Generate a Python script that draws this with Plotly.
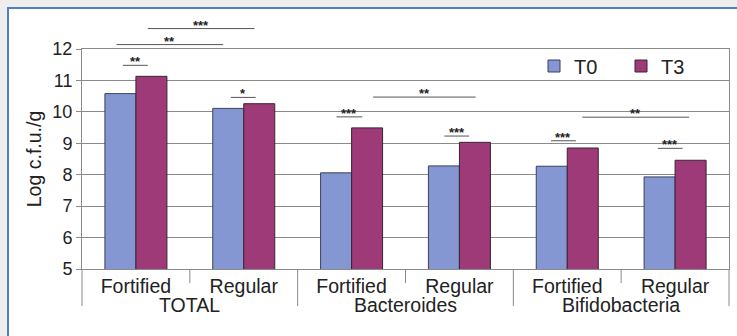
import plotly.graph_objects as go

# ---- data ----
subgroups = ["Fortified", "Regular", "Fortified", "Regular", "Fortified", "Regular"]
groups = ["TOTAL", "Bacteroides", "Bifidobacteria"]
t0_values = [10.58, 10.11, 8.06, 8.28, 8.27, 7.93]
t3_values = [11.13, 10.26, 9.49, 9.03, 8.85, 8.46]
y_ticks = [5, 6, 7, 8, 9, 10, 11, 12]

# significance brackets (start/end position along category axis, level, label)
sig_x0 = [-0.12, -0.18, 0.11, 0.88, 1.86, 2.20, 2.86, 3.85, 4.14, 4.84]
sig_x1 = [0.11, 0.81, 1.10, 1.11, 2.10, 3.15, 3.09, 4.08, 5.13, 5.07]
sig_y = [11.48, 12.14, 12.65, 10.46, 9.84, 10.47, 9.23, 9.08, 9.83, 8.84]
sig_lbl = ["**", "**", "***", "*", "***", "**", "***", "***", "**", "***"]

# ---- layout constants ----
W, H = 737, 336
ML, MR, MT, MB = 82, 8, 49, 67
PW, PH = W - ML - MR, H - MT - MB
Y_RANGE = [5, 12]
positions = list(range(len(subgroups)))
X_RANGE = [-0.5, len(subgroups) - 0.5]

FONT = "Liberation Sans, Arial, sans-serif"
GRID = "#8a8a8a"
BLUE = "#8597d3"
MAGENTA = "#9d3a77"


def xp(x):
    return (x - X_RANGE[0]) / (X_RANGE[1] - X_RANGE[0])


def yp(v):
    return (v - Y_RANGE[0]) / (Y_RANGE[1] - Y_RANGE[0])


def py_px(pix):
    # pixel row (from top of page) -> paper y
    return (H - MB - pix) / PH


def px_px(pix):
    return (pix - ML) / PW


fig = go.Figure()
fig.add_trace(go.Bar(x=positions, y=t0_values, name="T0",
                     marker=dict(color=BLUE, line=dict(color="#3c3f5a", width=1))))
fig.add_trace(go.Bar(x=positions, y=t3_values, name="T3",
                     marker=dict(color=MAGENTA, line=dict(color="#3a2433", width=1))))

shapes = []
# white panel with blue border
shapes.append(dict(type="rect", xref="paper", yref="paper",
                   x0=px_px(8), x1=px_px(W + 20), y0=py_px(H + 20), y1=py_px(8),
                   fillcolor="white", line=dict(color="#4f7fc4", width=2), layer="below"))

# category separators below the axis
for i in range(len(subgroups) + 1):
    xb = i - 0.5
    long_line = (i % 2 == 0)
    shapes.append(dict(type="line", xref="paper", yref="paper",
                       x0=xp(xb), x1=xp(xb), y0=0, y1=py_px(306 if long_line else 283),
                       line=dict(color=GRID, width=1)))

annotations = []
for x0, x1, yv, lbl in zip(sig_x0, sig_x1, sig_y, sig_lbl):
    shapes.append(dict(type="line", xref="paper", yref="paper",
                       x0=xp(x0), x1=xp(x1), y0=yp(yv), y1=yp(yv),
                       line=dict(color="#555555", width=1)))
    annotations.append(dict(xref="paper", yref="paper", x=xp((x0 + x1) / 2), y=yp(yv),
                            xanchor="center", yanchor="bottom", yshift=-6,
                            text="<b>" + lbl + "</b>", showarrow=False,
                            font=dict(family=FONT, size=13, color="#222222")))

for gi, g in enumerate(groups):
    annotations.append(dict(xref="paper", yref="paper", x=xp(2 * gi + 0.5), y=py_px(305),
                            text=g, showarrow=False, xanchor="center", yanchor="middle",
                            font=dict(family=FONT, size=19.5, color="#222222")))

fig.update_layout(
    width=W, height=H,
    margin=dict(l=ML, r=MR, t=MT, b=MB, pad=0, autoexpand=False),
    paper_bgcolor="#efeded",
    plot_bgcolor="white",
    barmode="group", bargap=0.425, bargroupgap=0,
    font=dict(family=FONT, color="#222222"),
    showlegend=True,
    legend=dict(orientation="h", x=px_px(534), y=py_px(66), xanchor="left", yanchor="middle",
                font=dict(family=FONT, size=20, color="#222222"),
                bgcolor="rgba(0,0,0,0)", entrywidth=42, entrywidthmode="pixels",
                traceorder="normal"),
    xaxis=dict(range=X_RANGE, tickvals=positions, ticktext=subgroups,
               showgrid=False, zeroline=False, ticks="", automargin=False,
               showline=True, linecolor=GRID, linewidth=1, mirror=True,
               tickfont=dict(family=FONT, size=19.5, color="#222222"), fixedrange=True),
    yaxis=dict(range=Y_RANGE, tickvals=y_ticks, showgrid=True, gridcolor=GRID, gridwidth=1,
               zeroline=False, showline=True, linecolor=GRID, linewidth=1, mirror=True,
               ticks="outside", ticklen=5, tickcolor=GRID, automargin=False,
               tickfont=dict(family=FONT, size=18, color="#222222"),
               title=dict(text="Log c.f.u./g", standoff=5,
                          font=dict(family=FONT, size=19.5, color="#222222")),
               fixedrange=True),
    shapes=shapes,
    annotations=annotations,
)

fig.write_html("out.html", config={"displayModeBar": False},
               post_script="document.body.style.margin='0px';document.body.style.overflow='hidden';")
